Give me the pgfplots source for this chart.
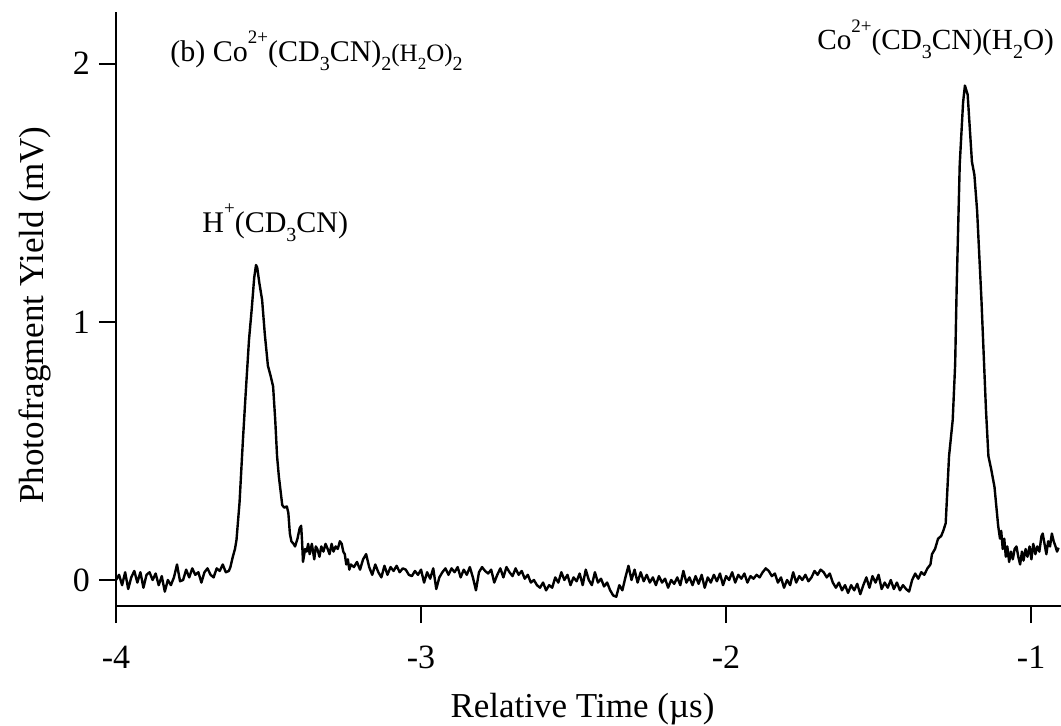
\documentclass[border=0pt]{standalone}
\usepackage{pgfplots}
\pgfplotsset{compat=1.18}
\usepackage{fontspec}
\setmainfont{Liberation Serif}
\newcommand{\sups}[1]{\raisebox{0.6em}{\fontsize{9.5}{10}\selectfont #1}}
\newcommand{\subs}[1]{\raisebox{-0.3em}{\fontsize{10}{10}\selectfont #1}}
\newcommand{\subss}[1]{\raisebox{-0.3em}{\fontsize{8.5}{9}\selectfont #1}}
\begin{document}
\begin{tikzpicture}
\begin{axis}[
  scale only axis, width=472.5pt, height=297pt,
  xmin=-4, xmax=-0.902, ymin=-0.1008, ymax=2.2,
  axis lines=left,
  axis line style={-, line width=1.35pt},
  every tick/.style={black, line width=1.1pt},
  tick align=outside, major tick length=8.5pt,
  xtick={-4,-3,-2,-1}, ytick={0,1,2},
  minor tick num=0,
  /pgf/number format/assume math mode=true,
  ticklabel style={font=\fontsize{17}{20}\selectfont},
  xticklabel style={yshift=-8pt},
  yticklabel style={xshift=-1pt},
  label style={font=\fontsize{17.5}{20}\selectfont},
  xlabel={Relative Time (µs)},
  ylabel={Photofragment Yield (mV)},
  xlabel style={at={(axis description cs:0.5,0)}, anchor=base, yshift=-55.5pt, xshift=-3pt},
  ylabel style={at={(axis description cs:0,0.49)}, anchor=base, yshift=36pt},
  clip=false,
]
\addplot[black, line width=1.2pt, line join=round] table {
x y
-4.00 0.00
-3.99 0.02
-3.98 -0.02
-3.97 0.03
-3.96 -0.035
-3.95 0.01
-3.94 0.035
-3.93 -0.01
-3.92 0.03
-3.91 -0.03
-3.90 0.02
-3.89 0.03
-3.88 0.0
-3.87 0.025
-3.86 -0.02
-3.85 0.015
-3.84 -0.045
-3.83 0.0
-3.82 -0.02
-3.81 0.01
-3.80 0.06
-3.79 -0.005
-3.78 0.0
-3.77 0.04
-3.76 0.01
-3.75 0.045
-3.74 0.02
-3.73 0.03
-3.72 -0.01
-3.71 0.03
-3.70 0.045
-3.69 0.02
-3.68 0.01
-3.67 0.045
-3.66 0.035
-3.65 0.06
-3.64 0.03
-3.63 0.035
-3.625 0.05
-3.617 0.09
-3.610 0.12
-3.605 0.155
-3.595 0.30
-3.584 0.54
-3.575 0.72
-3.564 0.93
-3.555 1.05
-3.547 1.17
-3.541 1.22
-3.537 1.21
-3.530 1.15
-3.521 1.085
-3.512 0.95
-3.502 0.83
-3.493 0.79
-3.485 0.75
-3.478 0.62
-3.472 0.48
-3.466 0.40
-3.462 0.36
-3.455 0.29
-3.448 0.28
-3.440 0.285
-3.435 0.26
-3.430 0.18
-3.425 0.15
-3.418 0.14
-3.413 0.13
-3.405 0.16
-3.398 0.20
-3.393 0.21
-3.390 0.15
-3.387 0.07
-3.380 0.12
-3.375 0.11
-3.370 0.14
-3.365 0.10
-3.358 0.14
-3.350 0.08
-3.345 0.13
-3.340 0.12
-3.333 0.09
-3.327 0.13
-3.320 0.11
-3.313 0.14
-3.306 0.12
-3.300 0.10
-3.293 0.14
-3.287 0.11
-3.280 0.13
-3.273 0.12
-3.266 0.15
-3.260 0.14
-3.255 0.11
-3.250 0.10
-3.245 0.06
-3.240 0.08
-3.235 0.04
-3.230 0.06
-3.22 0.05
-3.21 0.07
-3.20 0.04
-3.19 0.08
-3.18 0.10
-3.17 0.05
-3.16 0.02
-3.15 0.06
-3.14 0.03
-3.13 0.01
-3.12 0.055
-3.11 0.02
-3.10 0.05
-3.09 0.035
-3.08 0.055
-3.07 0.03
-3.06 0.045
-3.05 0.04
-3.04 0.02
-3.03 0.015
-3.02 0.035
-3.01 0.02
-3.00 0.04
-2.99 -0.01
-2.98 0.03
-2.97 0.005
-2.96 0.045
-2.95 -0.035
-2.94 0.01
-2.93 0.03
-2.92 0.045
-2.91 0.02
-2.90 0.045
-2.89 0.03
-2.88 0.05
-2.87 0.01
-2.86 0.04
-2.85 0.02
-2.84 0.05
-2.83 0.01
-2.82 -0.04
-2.81 0.03
-2.80 0.05
-2.79 0.035
-2.78 0.025
-2.77 0.04
-2.76 -0.01
-2.75 0.02
-2.74 0.045
-2.73 0.01
-2.72 0.05
-2.71 0.03
-2.70 0.015
-2.69 0.045
-2.68 0.02
-2.67 0.035
-2.66 0.005
-2.65 0.02
-2.64 -0.01
-2.63 0.0
-2.62 -0.02
-2.61 -0.03
-2.60 -0.01
-2.59 -0.04
-2.58 -0.02
-2.57 -0.03
-2.56 0.01
-2.55 -0.01
-2.54 0.03
-2.53 0.0
-2.52 0.02
-2.51 -0.02
-2.50 0.01
-2.49 -0.005
-2.48 0.025
-2.47 -0.02
-2.46 0.04
-2.45 0.0
-2.44 -0.02
-2.43 0.03
-2.42 -0.01
-2.41 0.005
-2.40 -0.025
-2.39 -0.01
-2.38 -0.04
-2.37 -0.06
-2.36 -0.065
-2.35 -0.02
-2.34 -0.04
-2.33 0.01
-2.32 0.055
-2.31 0.0
-2.30 0.04
-2.29 -0.01
-2.28 0.03
-2.27 -0.005
-2.26 0.02
-2.25 -0.01
-2.24 0.01
-2.23 -0.02
-2.22 0.015
-2.21 -0.01
-2.20 0.005
-2.19 -0.03
-2.18 0.0
-2.17 -0.015
-2.16 0.01
-2.15 -0.02
-2.14 0.035
-2.13 -0.01
-2.12 0.01
-2.11 -0.02
-2.10 0.015
-2.09 -0.015
-2.08 0.02
-2.07 -0.03
-2.06 0.01
-2.05 -0.01
-2.04 0.02
-2.03 -0.005
-2.02 0.025
-2.01 -0.02
-2.00 0.015
-1.99 0.0
-1.98 0.03
-1.97 -0.01
-1.96 0.02
-1.95 0.005
-1.94 0.025
-1.93 -0.01
-1.92 0.015
-1.91 0.005
-1.90 0.02
-1.89 0.01
-1.88 0.03
-1.87 0.045
-1.86 0.035
-1.85 0.015
-1.84 0.025
-1.83 -0.01
-1.82 0.01
-1.81 -0.03
-1.80 0.0
-1.79 -0.02
-1.78 0.03
-1.77 -0.01
-1.76 0.015
-1.75 0.0
-1.74 0.02
-1.73 -0.005
-1.72 0.01
-1.71 0.035
-1.70 0.02
-1.69 0.04
-1.68 0.03
-1.67 0.01
-1.66 0.025
-1.65 -0.01
-1.64 -0.03
-1.63 -0.01
-1.62 -0.04
-1.61 -0.02
-1.60 -0.05
-1.59 -0.02
-1.58 -0.04
-1.57 -0.015
-1.56 -0.055
-1.55 -0.02
-1.54 0.01
-1.53 -0.03
-1.52 0.015
-1.51 -0.01
-1.50 0.02
-1.49 -0.035
-1.48 -0.01
-1.47 -0.03
-1.46 0.0
-1.45 -0.035
-1.44 -0.01
-1.43 -0.04
-1.42 -0.02
-1.41 -0.035
-1.40 -0.045
-1.39 0.0
-1.38 0.025
-1.37 0.005
-1.36 0.03
-1.35 0.02
-1.34 0.045
-1.33 0.06
-1.325 0.10
-1.315 0.12
-1.305 0.16
-1.295 0.17
-1.288 0.19
-1.280 0.22
-1.269 0.48
-1.257 0.62
-1.249 0.835
-1.244 1.134
-1.234 1.61
-1.223 1.85
-1.217 1.915
-1.208 1.88
-1.194 1.62
-1.186 1.57
-1.177 1.43
-1.163 1.09
-1.148 0.66
-1.140 0.48
-1.131 0.43
-1.120 0.36
-1.108 0.21
-1.102 0.16
-1.098 0.19
-1.093 0.12
-1.088 0.16
-1.083 0.09
-1.078 0.13
-1.072 0.07
-1.066 0.11
-1.060 0.08
-1.054 0.12
-1.048 0.13
-1.042 0.09
-1.036 0.06
-1.030 0.11
-1.025 0.075
-1.018 0.12
-1.012 0.09
-1.005 0.13
-0.999 0.08
-0.993 0.14
-0.986 0.10
-0.980 0.13
-0.973 0.11
-0.966 0.17
-0.962 0.18
-0.956 0.14
-0.950 0.10
-0.944 0.15
-0.938 0.13
-0.932 0.18
-0.926 0.15
-0.920 0.13
-0.915 0.11
-0.910 0.125
};
\node[anchor=base west, font=\fontsize{15}{18}\selectfont, inner sep=0pt] at (axis cs:-3.823,2.008)
  {(b) Co\sups{2+}(CD\subs{3}CN)\subs{2}{\fontsize{12.5}{15}\selectfont(H\subss{2}O)}\subs{2}};
\node[anchor=base west, font=\fontsize{15}{18}\selectfont, inner sep=0pt] at (axis cs:-3.718,1.345)
  {H\sups{+}(CD\subs{3}CN)};
\node[anchor=base west, font=\fontsize{14.6}{18}\selectfont, inner sep=0pt] at (axis cs:-1.702,2.054)
  {Co\sups{2+}(CD\subs{3}CN)(H\subs{2}O)};
\end{axis}
\pgfresetboundingbox
\path[use as bounding box] (-58pt,-59.5pt) rectangle (472.5pt,303pt);
\end{tikzpicture}
\end{document}
